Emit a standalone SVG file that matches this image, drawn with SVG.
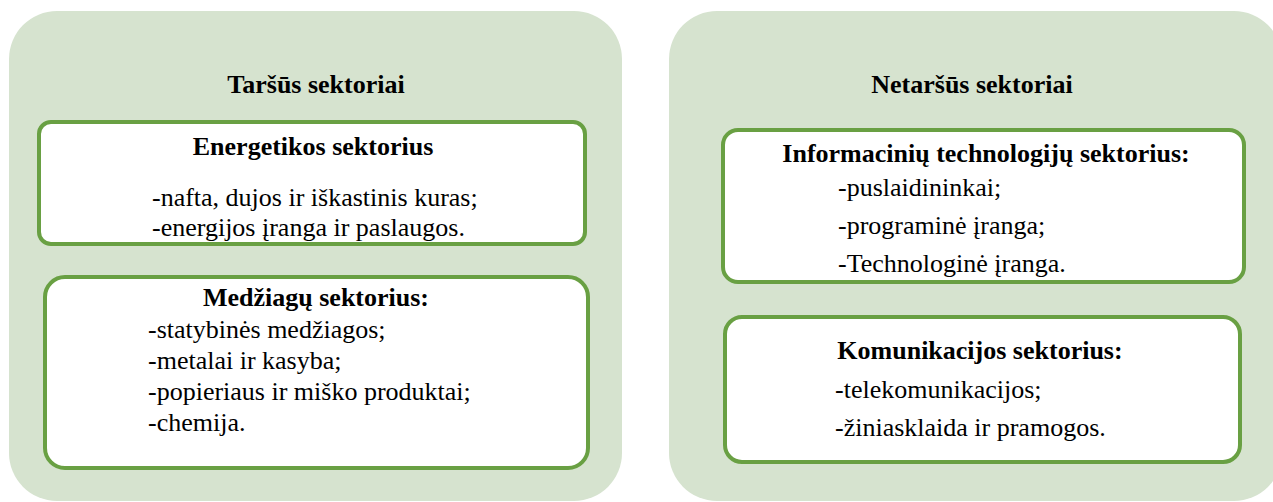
<svg xmlns="http://www.w3.org/2000/svg" width="1273" height="502" viewBox="0 0 1273 502">
<style>
.panel{fill:#D6E3CF;stroke:none}
.box{fill:#FFFFFF;stroke:#69A043;stroke-width:4}
.c{text-anchor:middle}
</style>
<rect width="1273" height="502" fill="#FFFFFF"/>
<g font-family="Liberation Serif, serif" font-size="26" fill="#000000">
<g id="panel-tarsus">
<rect class="panel" x="9" y="11" width="613" height="490" rx="48" ry="48"/>
<text class="c" font-weight="bold" x="316" y="93">Taršūs sektoriai</text>
</g>
<g id="panel-netarsus">
<rect class="panel" x="669" y="11" width="613" height="490" rx="48" ry="48"/>
<text class="c" font-weight="bold" x="972" y="93">Netaršūs sektoriai</text>
</g>
<g id="box-energetikos">
<rect class="box" x="39" y="122" width="546" height="122" rx="12" ry="12"/>
<text class="c" font-weight="bold" x="313" y="155">Energetikos sektorius</text>
<text x="152" y="206">-nafta, dujos ir iškastinis kuras;</text>
<text x="152" y="236">-energijos įranga ir paslaugos.</text>
</g>
<g id="box-medziagu">
<rect class="box" x="45" y="277" width="543" height="191" rx="20" ry="20"/>
<text class="c" font-weight="bold" x="316" y="306">Medžiagų sektorius:</text>
<text x="148" y="338">-statybinės medžiagos;</text>
<text x="148" y="369">-metalai ir kasyba;</text>
<text x="148" y="400">-popieriaus ir miško produktai;</text>
<text x="148" y="431">-chemija.</text>
</g>
<g id="box-informaciniu">
<rect class="box" x="723" y="130" width="521" height="152" rx="15" ry="15"/>
<text class="c" font-weight="bold" x="986" y="162">Informacinių technologijų sektorius:</text>
<text x="838" y="196">-puslaidininkai;</text>
<text x="838" y="234">-programinė įranga;</text>
<text x="838" y="272">-Technologinė įranga.</text>
</g>
<g id="box-komunikacijos">
<rect class="box" x="725" y="317" width="515" height="145" rx="17" ry="17"/>
<text class="c" font-weight="bold" x="980" y="359">Komunikacijos sektorius:</text>
<text x="835" y="398">-telekomunikacijos;</text>
<text x="835" y="436">-žiniasklaida ir pramogos.</text>
</g>
</g>
</svg>
